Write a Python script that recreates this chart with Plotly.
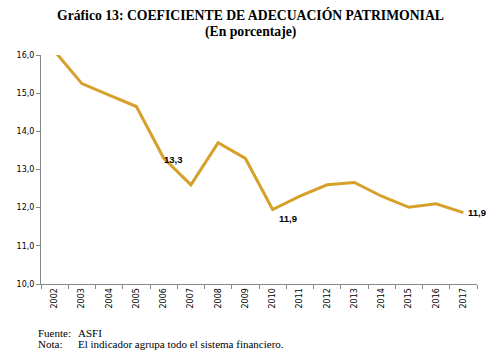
import plotly.graph_objects as go

years = [str(y) for y in range(2002, 2018)]
values = [16.1, 15.25, 14.95, 14.65, 13.3, 12.6, 13.7, 13.29, 11.95, 12.3, 12.6, 12.66, 12.3, 12.01, 12.1, 11.87]
label_years = ["2006", "2010", "2017"]
label_texts = ["13,3", "11,9", "11,9"]

fig = go.Figure()
fig.add_trace(go.Scatter(x=years, y=values, mode="lines", cliponaxis=False,
                         line=dict(color="#D6A02A", width=3), hoverinfo="skip"))

shifts = {"2006": (10, -1), "2010": (15, -9), "2017": (14, 0)}
for yr, txt in zip(label_years, label_texts):
    idx = years.index(yr)
    v = values[idx]
    dx, dy = shifts[yr]
    fig.add_annotation(x=idx, y=v, text="<b>" + txt + "</b>", showarrow=False,
                       xshift=dx, yshift=dy, font=dict(family="Liberation Sans", size=9.5, color="#000"))

tfont = dict(family="Liberation Serif", size=13.7, color="#000")
fig.add_annotation(xref="paper", yref="paper", x=0.5, y=1, xshift=-9, yshift=40, showarrow=False,
                   yanchor="middle", text="<b>Gráfico 13: COEFICIENTE DE ADECUACIÓN PATRIMONIAL</b>", font=tfont)
fig.add_annotation(xref="paper", yref="paper", x=0.5, y=1, xshift=-9, yshift=23, showarrow=False,
                   yanchor="middle", text="<b>(En porcentaje)</b>", font=tfont)

foot = dict(family="Liberation Serif", size=11, color="#000")
fig.add_annotation(xref="paper", yref="paper", x=0, y=0, xshift=-5, yshift=-41, showarrow=False,
                   xanchor="left", yanchor="top", text="Fuente:", font=foot)
fig.add_annotation(xref="paper", yref="paper", x=0, y=0, xshift=35, yshift=-41, showarrow=False,
                   xanchor="left", yanchor="top", text="ASFI", font=foot)
fig.add_annotation(xref="paper", yref="paper", x=0, y=0, xshift=-5, yshift=-52, showarrow=False,
                   xanchor="left", yanchor="top", text="Nota:", font=foot)
fig.add_annotation(xref="paper", yref="paper", x=0, y=0, xshift=35, yshift=-52, showarrow=False,
                   xanchor="left", yanchor="top",
                   text="El indicador agrupa todo el sistema financiero.", font=foot)

fig.update_layout(
    width=501, height=363,
    margin=dict(l=41, r=24, t=55, b=79),
    paper_bgcolor="white", plot_bgcolor="white",
    showlegend=False, separators=",.",
    font=dict(family="DejaVu Sans", size=8, color="#000"),
)
fig.update_xaxes(type="category", range=[-0.5, len(years) - 0.5], tickangle=-90,
                 showline=True, linecolor="#888", linewidth=1, automargin=False,
                 ticks="outside", tickson="boundaries", ticklen=4, tickcolor="#888",
                 showgrid=False, tickfont=dict(size=8))
fig.update_yaxes(range=[10, 16], dtick=1, tickformat=".1f", showline=True, linecolor="#888",
                 linewidth=1, ticks="outside", ticklen=4, tickcolor="#888", showgrid=False,
                 zeroline=False, automargin=False, tickfont=dict(size=8))

fig.write_html("out.html", config={"displayModeBar": False},
               post_script="document.body.style.margin='0';")
